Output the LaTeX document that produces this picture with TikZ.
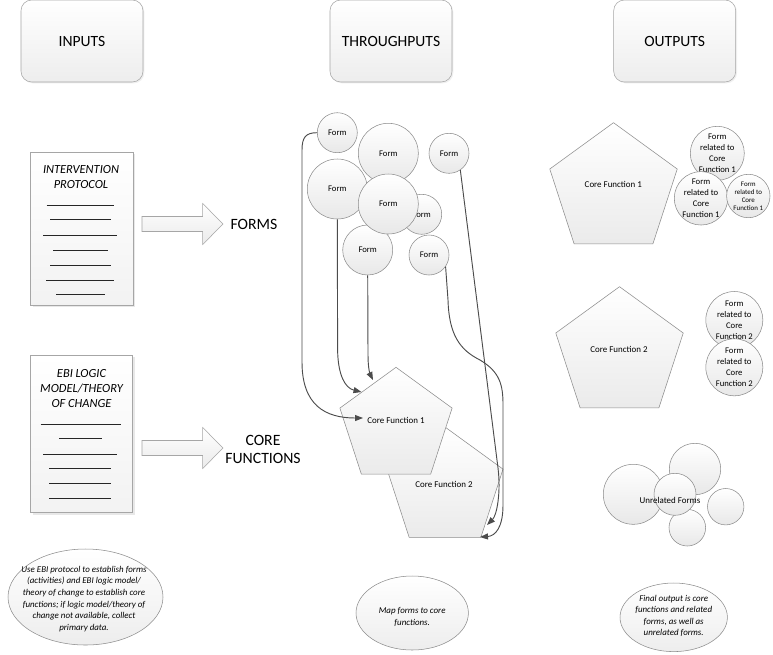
\documentclass[tikz,border=0pt]{standalone}
\usepackage{fontspec}
\setmainfont{Carlito}
\usetikzlibrary{shapes.geometric,shadows,arrows.meta}
\newcommand{\pxu}{0.75pt}
\begin{document}
\begin{tikzpicture}[x=0.75pt,y=-0.75pt,
  hdr/.style={draw=black!35, rounded corners=8pt, top color=white, bottom color=black!7, minimum width=122*\pxu, minimum height=82*\pxu, inner sep=0pt, font=\fontsize{11.7}{14}\selectfont, drop shadow={opacity=0.12, shadow xshift=1pt, shadow yshift=-1pt}},
  doc/.style={draw=black!35, top color=white, bottom color=black!5, inner sep=0pt, drop shadow={opacity=0.18, shadow xshift=1.5pt, shadow yshift=-1.5pt}},
  doctext/.style={font=\fontsize{9.3}{11.25}\selectfont\itshape, align=center, inner sep=0pt},
  bigtxt/.style={font=\fontsize{11.8}{13.5}\selectfont, align=center, inner sep=0pt},
  frm/.style={circle, draw=black!45, top color=white, bottom color=black!9, inner sep=0pt, font=\fontsize{6.5}{8.25}\selectfont, align=center},
  pent/.style={regular polygon, regular polygon sides=5, draw=black!45, top color=white, bottom color=black!8, inner sep=0pt},
  small/.style={font=\fontsize{6.7}{8}\selectfont, inner sep=0pt, align=center},
  note/.style={ellipse, draw=black!45, top color=white, bottom color=black!7, inner sep=0pt},
  notetext/.style={font=\fontsize{6.7}{8.7}\selectfont\itshape, align=center, inner sep=0pt},
  conn/.style={draw=black!70, line width=0.7pt, -{Triangle[length=6pt,width=4.5pt]}},
  barrow/.style={draw=black!35, top color=white, bottom color=black!8},
  uline/.style={black!85, line width=0.6pt}
]
\useasboundingbox[fill=white] (0,0) rectangle (773,654);

% headers
\node[hdr] (hin) at (82,41) {INPUTS};
\node[hdr] (hthr) at (391,41) {THROUGHPUTS};
\node[hdr] (hout) at (674.7,41) {OUTPUTS};

% documents
\node[doc, minimum width=102.6*\pxu, minimum height=152.7*\pxu] (doc1) at (82,228.7) {};
\node[doc, minimum width=102*\pxu, minimum height=157.7*\pxu] (doc2) at (81.7,433.9) {};
\node[doctext] (doc1t) at (81,177.5) {INTERVENTION\\PROTOCOL};
\node[doctext] (doc2t) at (81.5,388.7) {EBI LOGIC\\MODEL/THEORY\\OF CHANGE};
\foreach \yy/\xa/\xb in {205/46.7/114, 219/50/111, 235/43/117, 250/53/108, 265/50/111, 280/46/114, 294/56/105}
  \draw[uline] (\xa,\yy) -- (\xb,\yy);
\foreach \yy/\xa/\xb in {424/40.7/120.7, 438/59/102, 454/43/117, 468/49/111, 483/49/111, 498/49/111}
  \draw[uline] (\xa,\yy) -- (\xb,\yy);

% block arrows
\draw[barrow] (142,216.5) -- (202.7,216.5) -- (202.7,203.5) -- (223,224) -- (202.7,244.5) -- (202.7,231.5) -- (142,231.5) -- cycle;
\draw[barrow] (142,440.5) -- (202.7,440.5) -- (202.7,427.5) -- (223,448) -- (202.7,468.5) -- (202.7,455.5) -- (142,455.5) -- cycle;
\node[bigtxt] (forms) at (254,224.5) {FORMS};
\node[bigtxt] (corefn) at (263,449) {CORE\\FUNCTIONS};

% throughput forms
\node[frm, minimum size=40*\pxu] (fa) at (337.3,132.7) {Form};
\node[frm, minimum size=60*\pxu] (fb) at (388.3,153.3) {Form};
\node[frm, minimum size=40*\pxu] (fc) at (449,153.3) {Form};
\node[frm, minimum size=60*\pxu] (fd) at (337.3,189) {Form};
\node[frm, minimum size=40*\pxu] (fe) at (421.7,214.3) {Form};
\node[frm, minimum size=50*\pxu] (ff) at (367.7,250) {Form};
\node[frm, minimum size=40*\pxu] (fg) at (429,255) {Form};
\node[frm, minimum size=60*\pxu] (fh) at (388.3,204) {Form};

% throughput core functions
\node[pent, minimum size=122*\pxu] (cf2) at (445,488) {};
\node[small] (cf2t) at (444,484.3) {Core Function 2};
\node[pent, minimum size=118*\pxu] (cf1) at (396,426.3) {};
\node[small] (cf1t) at (396,420.7) {Core Function 1};

% connectors
\coordinate (t1) at (363,418);
\coordinate (t2) at (361.5,392);
\coordinate (t3) at (373,380);
\coordinate (t4) at (480,537);
\coordinate (t5) at (487,525);
\draw[conn] (fa.west) .. controls (306,132.7) and (302,137) .. (302,150) -- (302,362) .. controls (302,405) and (325,418) .. (t1);
\draw[conn] (fd.south) -- (337.6,350) .. controls (338,375) and (345,388) .. (t2);
\draw[conn] (ff.south) -- (368,355) .. controls (368,368) and (370,374) .. (t3);
\draw[conn] (fg.-35) -- (448,300) .. controls (449,335) and (460,350) .. (480,360) .. controls (500,372) and (503,385) .. (503,405) -- (503,505) .. controls (503,528) and (495,536) .. (t4);
\draw[conn] (fc.-56) -- (498,468) .. controls (501,492) and (497,515) .. (t5);

% outputs
\node[pent, minimum size=134*\pxu] (ocf1) at (613.5,189.7) {};
\node[small] (ocf1t) at (613.3,184) {Core Function 1};
\node[frm, minimum size=54*\pxu] (oa) at (717.3,153.3) {Form\\related to\\Core\\Function 1};
\node[frm, minimum size=52*\pxu] (ob) at (701,198.3) {Form\\related to\\Core\\Function 1};
\node[frm, minimum size=43.4*\pxu, font=\fontsize{5.2}{6}\selectfont] (oc) at (748.3,196) {Form\\related to\\Core\\Function 1};

\node[pent, minimum size=134*\pxu] (ocf2) at (619.5,353.7) {};
\node[small] (ocf2t) at (619,349.3) {Core Function 2};
\node[frm, minimum size=57*\pxu] (od) at (734.3,320) {Form\\related to\\Core\\Function 2};
\node[frm, minimum size=57*\pxu] (oe) at (734.3,367.3) {Form\\related to\\Core\\Function 2};

\node[frm, minimum size=60*\pxu] (u1) at (633.3,494.3) {};
\node[frm, minimum size=51.4*\pxu] (u2) at (695,469) {};
\node[frm, minimum size=36.6*\pxu] (u3) at (687.3,527.7) {};
\node[frm, minimum size=42*\pxu] (u4) at (675,494.3) {};
\node[frm, minimum size=36.4*\pxu] (u5) at (725.7,506.7) {};
\node[small] (uft) at (670,500.7) {Unrelated Forms};

% notes
\node[note, minimum width=155*\pxu, minimum height=96*\pxu] (n1) at (85.5,597) {};
\node[notetext] (n1t) at (84,599) {Use EBI protocol to establish forms\\(activities) and EBI logic model/\\theory of change to establish core\\functions; if logic model/theory of\\change not available, collect\\primary data.};
\node[note, minimum width=112.4*\pxu, minimum height=74*\pxu] (n2) at (412.2,613) {};
\node[notetext] (n2t) at (412.2,617) {Map forms to core\\functions.};
\node[note, minimum width=107.4*\pxu, minimum height=68.6*\pxu] (n3) at (673.7,617.3) {};
\node[notetext] (n3t) at (673.7,616) {Final output is core\\functions and related\\forms, as well as\\unrelated forms.};
\end{tikzpicture}
\end{document}
